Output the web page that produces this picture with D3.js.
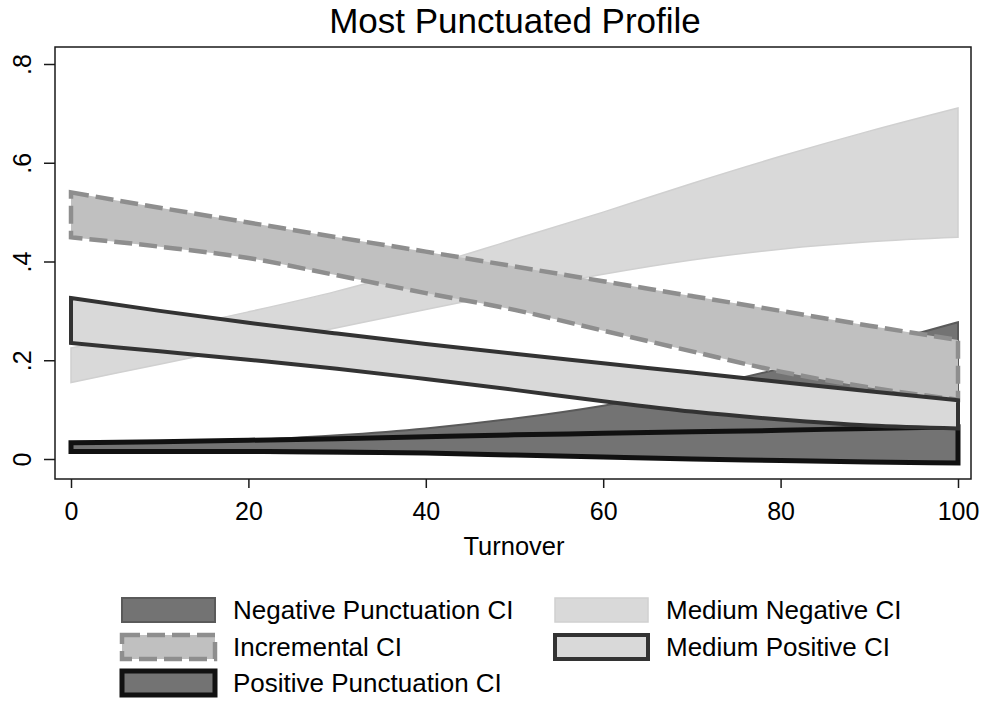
<!DOCTYPE html>
<html>
<head>
<meta charset="utf-8">
<script src="https://cdn.jsdelivr.net/npm/d3@7"></script>
<style>
  body { margin: 0; background: #fff; }
  text { font-family: "Liberation Sans", Arial, sans-serif; fill: #000; }
</style>
</head>
<body>
<svg id="chart" width="990" height="704"></svg>
<script>
var turnover = [0, 10, 20, 30, 40, 50, 60, 70, 80, 90, 100];

var negPunctLo = [0.012, 0.012, 0.012, 0.011, 0.010, 0.009, 0.008, 0.006, 0.005, 0.002, 0.000];
var negPunctHi = [0.025, 0.030, 0.038, 0.048, 0.062, 0.082, 0.108, 0.142, 0.183, 0.228, 0.277];
var incrLo = [0.449, 0.430, 0.407, 0.372, 0.336, 0.302, 0.260, 0.218, 0.177, 0.145, 0.120];
var incrHi = [0.540, 0.509, 0.479, 0.449, 0.420, 0.390, 0.360, 0.330, 0.300, 0.270, 0.241];
var posPunctLo = [0.015, 0.015, 0.015, 0.014, 0.012, 0.008, 0.004, 0.000, -0.003, -0.006, -0.008];
var posPunctHi = [0.033, 0.035, 0.038, 0.041, 0.045, 0.049, 0.052, 0.055, 0.058, 0.062, 0.065];
var medNegLo = [0.155, 0.192, 0.229, 0.266, 0.303, 0.339, 0.374, 0.403, 0.425, 0.440, 0.449];
var medNegHi = [0.225, 0.260, 0.298, 0.340, 0.390, 0.445, 0.500, 0.558, 0.613, 0.664, 0.711];
var medPosLo = [0.235, 0.218, 0.201, 0.183, 0.162, 0.140, 0.117, 0.096, 0.080, 0.068, 0.062];
var medPosHi = [0.326, 0.300, 0.276, 0.254, 0.233, 0.213, 0.194, 0.175, 0.156, 0.137, 0.119];

var xTicks = [0, 20, 40, 60, 80, 100];
var yTicks = [0, 0.2, 0.4, 0.6, 0.8];
var yTickLabels = ["0", ".2", ".4", ".6", ".8"];

var titleText = "Most Punctuated Profile";
var xTitle = "Turnover";

var svg = d3.select("#chart");

var x = d3.scaleLinear().domain([0, 100]).range([71, 958]);
var y = d3.scaleLinear().domain([0, 0.8]).range([459, 64]);

// band styles, in draw order
var bands = [
  {name: "Negative Punctuation CI", lo: negPunctLo, hi: negPunctHi, fill: "#737373", stroke: "#5a5a5a", width: 2, dash: null},
  {name: "Medium Negative CI", lo: medNegLo, hi: medNegHi, fill: "#d9d9d9", stroke: "#d0d0d0", width: 1.5, dash: null},
  {name: "Incremental CI", lo: incrLo, hi: incrHi, fill: "#c0c0c0", stroke: "#8e8e8e", width: 4.5, dash: "18,7"},
  {name: "Positive Punctuation CI", lo: posPunctLo, hi: posPunctHi, fill: "#737373", stroke: "#111111", width: 5, dash: null},
  {name: "Medium Positive CI", lo: medPosLo, hi: medPosHi, fill: "#d9d9d9", stroke: "#333333", width: 4, dash: null}
];

var plot = svg.append("g");

bands.forEach(function(b) {
  var area = d3.area()
    .curve(d3.curveMonotoneX)
    .x(function(d, i) { return x(turnover[i]); })
    .y0(function(d, i) { return y(b.lo[i]); })
    .y1(function(d, i) { return y(b.hi[i]); });

  plot.append("path")
    .datum(turnover)
    .attr("d", area)
    .attr("fill", b.fill)
    .attr("stroke", b.stroke)
    .attr("stroke-width", b.width)
    .attr("stroke-dasharray", b.dash)
    .attr("stroke-linejoin", "miter");
});

// plot frame
svg.append("rect")
  .attr("x", 55).attr("y", 47)
  .attr("width", 916).attr("height", 432)
  .attr("fill", "none")
  .attr("stroke", "#1a1a1a")
  .attr("stroke-width", 1.5);

// axes
var yaxis = d3.axisLeft(y)
  .tickValues(yTicks)
  .tickSize(11)
  .tickPadding(0)
  .tickFormat(function(d, i) { return yTickLabels[i]; });

var gy = svg.append("g")
  .attr("transform", "translate(55,0)")
  .call(yaxis);
gy.select(".domain").remove();
gy.selectAll("line").attr("stroke", "#1a1a1a").attr("stroke-width", 1.5);
gy.selectAll("text")
  .attr("x", 0).attr("dy", null)
  .attr("text-anchor", "middle")
  .attr("font-size", 25)
  .attr("transform", "translate(-33,0) rotate(-90)")
  .attr("dominant-baseline", "central");

var xaxis = d3.axisBottom(x)
  .tickValues(xTicks)
  .tickSize(9)
  .tickPadding(14)
  .tickFormat(d3.format("d"));

var gx = svg.append("g")
  .attr("transform", "translate(0,479)")
  .call(xaxis);
gx.select(".domain").remove();
gx.selectAll("line").attr("stroke", "#1a1a1a").attr("stroke-width", 1.5);
gx.selectAll("text").attr("font-size", 25);

svg.append("text")
  .attr("x", 514).attr("y", 555)
  .attr("text-anchor", "middle")
  .attr("font-size", 25.5)
  .text(xTitle);

svg.append("text")
  .attr("x", 515).attr("y", 33)
  .attr("text-anchor", "middle")
  .attr("font-size", 35)
  .text(titleText);

// legend, same order as the original
var legendOrder = [
  {band: bands[0], col: 0, row: 0},
  {band: bands[2], col: 0, row: 1},
  {band: bands[3], col: 0, row: 2},
  {band: bands[1], col: 1, row: 0},
  {band: bands[4], col: 1, row: 1}
];
var colX = [122, 555];
var rowY = [610, 647, 683];

var leg = svg.append("g");
legendOrder.forEach(function(l) {
  var b = l.band;
  var cx = colX[l.col], cy = rowY[l.row];
  leg.append("rect")
    .attr("x", cx).attr("y", cy - 12)
    .attr("width", 93).attr("height", 24)
    .attr("fill", b.fill)
    .attr("stroke", b.stroke)
    .attr("stroke-width", b.width)
    .attr("stroke-dasharray", b.dash);
  leg.append("text")
    .attr("x", cx + 111).attr("y", cy)
    .attr("dominant-baseline", "central")
    .attr("font-size", 26)
    .text(b.name);
});
</script>
</body>
</html>
